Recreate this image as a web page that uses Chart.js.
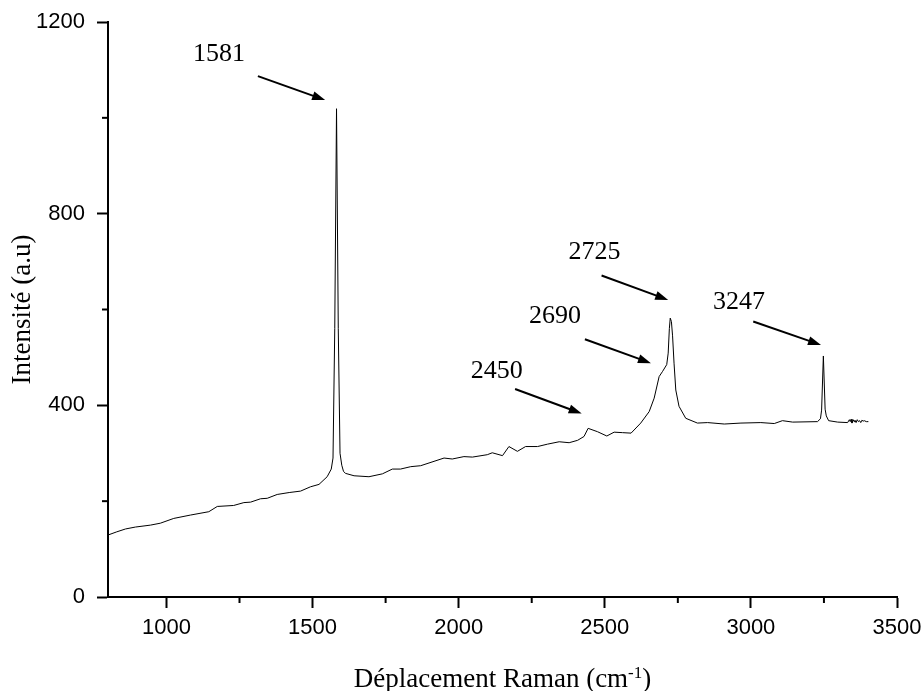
<!DOCTYPE html>
<html><head><meta charset="utf-8">
<script src="https://cdn.jsdelivr.net/npm/chart.js@4/dist/chart.umd.min.js"></script>
<style>html,body{margin:0;padding:0;background:#fff}canvas{display:block}</style>
</head><body>
<canvas id="c" width="923" height="691"></canvas>
<script>
// Raman shift (cm-1) and intensity (a.u.)
const ramanShift = [803,830,860,894,945,979,1025,1082,1145,1174,1230,1265,1288,1322,1345,1379,1420,1459,1493,1522,1550,1564,1570,1576,1582,1588,1594,1600,1606,1613,1642,1693,1739,1773,1801,1836,1870,1950,1978,2018,2047,2098,2115,2150,2172,2201,2229,2270,2304,2344,2378,2407,2429,2443,2475,2507,2532,2561,2590,2623,2652,2669,2686,2698,2712,2717,2721,2724,2728,2732,2737,2743,2754,2777,2817,2852,2909,2966,3034,3080,3108,3143,3228,3238,3242,3248,3254,3258,3266,3297,3331,3337,3340,3343,3346,3350,3353,3356,3360,3364,3368,3372,3376,3380,3384,3388,3395,3402];
const intensity  = [130,136,142,146,150,154,164,171,178,189,191,197,198,205,206,214,218,221,230,235,251,267,290,560,1019,560,300,275,262,258,253,251,257,267,267,272,274,290,288,293,292,297,301,295,314,304,314,314,319,324,322,327,335,352,345,336,344,343,342,363,387,415,460,471,485,509,560,582,575,545,488,432,398,373,363,364,361,363,364,362,368,365,366,372,390,503,392,378,368,365,364,370,366,371,363,370,366,369,364,370,366,368,364,369,367,368,366,366];

const xTickValues = [1000,1500,2000,2500,3000,3500];
const yTickValues = [0,400,800,1200];
const xMinorTicks = [1250,1750,2250,2750,3250];
const yMinorTicks = [200,600,1000];

// peak labels: text, label anchor (data), arrow start and end (data)
const peakLabels  = ['1581','2450','2690','2725','3247'];
const labelX      = [1180,2130,2330,2465,2959];
const labelY      = [1133,471,586,719,615];
const arrowFromX  = [1313,2193,2432,2489,3008];
const arrowFromY  = [1087,434,538,671,575];
const arrowToX    = [1543,2421,2658,2717,3240];
const arrowToY    = [1037,383,488,620,526];

const points = ramanShift.map((x,i)=>({x:x, y:intensity[i]}));

const decor = {
  id:'decor',
  afterDraw(chart){
    const ctx = chart.ctx, xs = chart.scales.x, ys = chart.scales.y, a = chart.chartArea;
    ctx.save();
    ctx.strokeStyle = '#000'; ctx.fillStyle = '#000'; ctx.lineWidth = 2;
    // minor ticks
    xMinorTicks.forEach(v=>{const p = xs.getPixelForValue(v); ctx.beginPath(); ctx.moveTo(p,a.bottom); ctx.lineTo(p,a.bottom+6); ctx.stroke();});
    yMinorTicks.forEach(v=>{const p = ys.getPixelForValue(v); ctx.beginPath(); ctx.moveTo(a.left,p); ctx.lineTo(a.left-6,p); ctx.stroke();});
    // annotations
    ctx.font = '26px "Liberation Serif", "Times New Roman", serif';
    ctx.textAlign = 'center'; ctx.textBaseline = 'middle';
    peakLabels.forEach((t,i)=>{
      ctx.fillText(t, xs.getPixelForValue(labelX[i]), ys.getPixelForValue(labelY[i]));
      const x1 = xs.getPixelForValue(arrowFromX[i]), y1 = ys.getPixelForValue(arrowFromY[i]);
      const x2 = xs.getPixelForValue(arrowToX[i]),   y2 = ys.getPixelForValue(arrowToY[i]);
      const ang = Math.atan2(y2-y1, x2-x1), c = Math.cos(ang), s = Math.sin(ang);
      const hl = 13, hw = 4.5;
      const bx = x2 - hl*c, by = y2 - hl*s;
      ctx.lineWidth = 2;
      ctx.beginPath(); ctx.moveTo(x1,y1); ctx.lineTo(bx+2*c,by+2*s); ctx.stroke();
      ctx.beginPath(); ctx.moveTo(x2,y2); ctx.lineTo(bx + hw*s, by - hw*c); ctx.lineTo(bx - hw*s, by + hw*c); ctx.closePath(); ctx.fill();
    });
    // x title with superscript
    const mainF = '27px "Liberation Serif", "Times New Roman", serif';
    const supF  = '17px "Liberation Serif", "Times New Roman", serif';
    const t1 = 'Déplacement Raman (cm', t2 = '-1', t3 = ')';
    ctx.textAlign = 'left'; ctx.textBaseline = 'alphabetic';
    ctx.font = mainF; const w1 = ctx.measureText(t1).width, w3 = ctx.measureText(t3).width;
    ctx.font = supF;  const w2 = ctx.measureText(t2).width;
    const cx = (a.left + a.right)/2, start = cx - (w1+w2+w3)/2, base = a.bottom + 90;
    ctx.font = mainF; ctx.fillText(t1, start, base);
    ctx.font = supF;  ctx.fillText(t2, start + w1, base - 9);
    ctx.font = mainF; ctx.fillText(t3, start + w1 + w2, base);
    // y title
    ctx.translate(23, (a.top + a.bottom)/2);
    ctx.rotate(-Math.PI/2);
    ctx.textAlign = 'center'; ctx.textBaseline = 'middle';
    ctx.font = mainF;
    ctx.fillText('Intensité (a.u)', 0, 0);
    ctx.restore();
  }
};

const tickFont = {family:'"Liberation Sans", Arial, sans-serif', size:22};

new Chart(document.getElementById('c'), {
  type:'line',
  data:{datasets:[{data:points, borderColor:'#000', borderWidth:1, pointRadius:0, tension:0, fill:false}]},
  options:{
    responsive:false, animation:false, devicePixelRatio:1,
    layout:{padding:{left:0, right:26, top:22, bottom:0}},
    plugins:{legend:{display:false}, tooltip:{enabled:false}},
    scales:{
      x:{type:'linear', min:800, max:3500,
         afterBuildTicks(s){ s.ticks = xTickValues.map(v=>({value:v})); },
         afterFit(s){ s.height = 94; s.paddingLeft = 0; s.paddingRight = 0; },
         grid:{drawOnChartArea:false, drawTicks:true, tickLength:11, tickWidth:2, tickColor:'#000'},
         border:{display:true, color:'#000', width:2},
         ticks:{color:'#000', font:tickFont, padding:7, maxRotation:0, autoSkip:false, includeBounds:false, callback:v=>String(v)}},
      y:{type:'linear', min:0, max:1200,
         afterBuildTicks(s){ s.ticks = yTickValues.map(v=>({value:v})); },
         afterFit(s){ s.width = 108; s.paddingTop = 0; s.paddingBottom = 0; },
         grid:{drawOnChartArea:false, drawTicks:true, tickLength:11, tickWidth:2, tickColor:'#000'},
         border:{display:true, color:'#000', width:2},
         ticks:{color:'#000', font:tickFont, padding:12, autoSkip:false, includeBounds:false, callback:v=>String(v)}}
    }
  },
  plugins:[decor]
});
</script>
</body></html>
